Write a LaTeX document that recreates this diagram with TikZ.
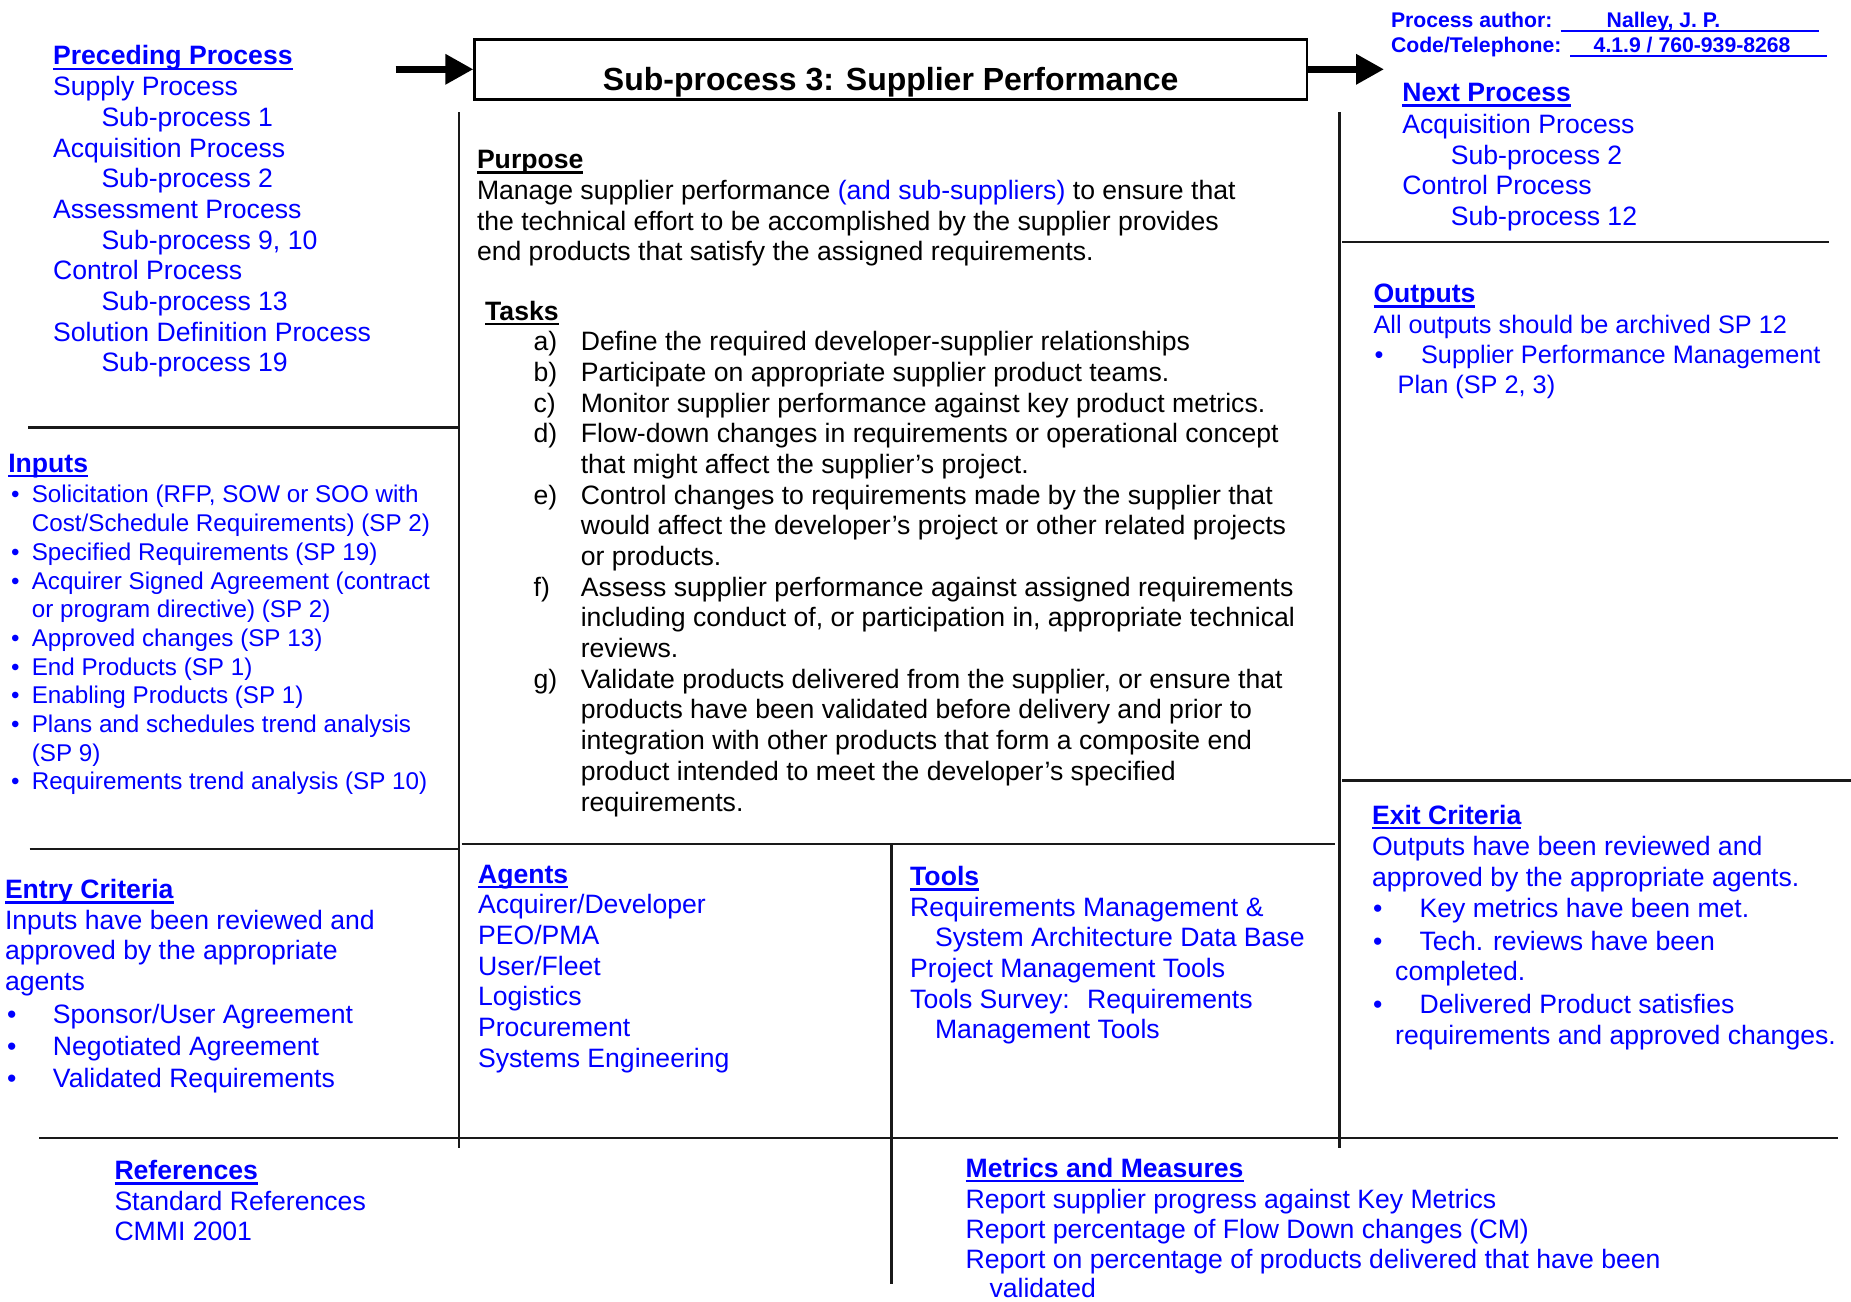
\documentclass[tikz,border=0pt]{standalone}
\usepackage{fontspec}
\setmainfont{Liberation Sans}
\usetikzlibrary{arrows.meta}
\definecolor{wblue}{RGB}{0,0,255}
\newsavebox\hdbox
\newcommand\hdu[1]{\sbox\hdbox{\bfseries #1}\rlap{\rule[-2.6pt]{\wd\hdbox}{1.3pt}}\usebox\hdbox}
\begin{document}
\begin{tikzpicture}[x=0.5pt,y=-0.5pt,
  txt/.style={anchor=base west, inner sep=0pt, outer sep=0pt, font=\fontsize{13.3}{15}\selectfont, text=wblue},
  blk/.style={txt, text=black},
  small/.style={txt, font=\fontsize{12.1}{14}\selectfont},
  outp/.style={txt, font=\fontsize{12.65}{14.5}\selectfont},
  auth/.style={txt, font=\fontsize{10.6}{12}\selectfont\bfseries},
  divline/.style={line width=1.2pt, black!90},
  authline/.style={line width=1.1pt, wblue},
  bigarrow/.style={line width=3.3pt, -{Triangle[length=14pt,width=14.5pt]}},
  titlebox/.style={draw, line width=1.3pt, minimum width=416.1pt, minimum height=30pt, inner sep=0pt}
]
\useasboundingbox (0,0) rectangle (1851,1301);
\fill[white] (0,0) rectangle (1851,1301);

% ---------- title and arrows
\node[titlebox] (title) at (890.7,69.3) {};
\node[blk, anchor=base, font=\fontsize{16}{18}\selectfont\bfseries] (titletxt) at (890.7,90.5) {Sub-process 3: Supplier Performance};
\coordinate (arrL) at (395.5,69.3);
\coordinate (arrR) at (1384,69.3);
\draw[bigarrow] (arrL) -- (title.west);
\draw[bigarrow] (title.east) -- (arrR);

% ---------- author
\node[auth] (pa) at (1391,27.6) {Process author:};
\node[auth] (pan) at (1606.7,27.6) {Nalley, J. P.};
\draw[authline] (1560.6,30.8) -- (1819.1,30.8);
\node[auth] (ct) at (1391,52.4) {Code/Telephone:};
\node[auth] (ctn) at (1593.7,52.4) {4.1.9 / 760-939-8268};
\draw[authline] (1570,55.6) -- (1827.4,55.6);

% ---------- divider lines
\draw[divline] (459.2,112) -- (459.2,1147.5);
\draw[divline] (1339.5,112) -- (1339.5,1147.5);
\draw[divline] (891.3,845) -- (891.3,1284);
\draw[divline] (28.3,427.3) -- (459.2,427.3);
\draw[divline] (29.5,848.8) -- (459.2,848.8);
\draw[divline] (461.6,844) -- (1335,844);
\draw[divline] (1342,242) -- (1828.6,242);
\draw[divline] (1342,780.3) -- (1851,780.3);
\draw[divline] (39,1138) -- (1838,1138);

% ---------- preceding process
\node[txt] (pp) at (53.1,64.9) {\hdu{Preceding Process}};
\node[txt] (pp1) at (53.1,95.6) {Supply Process};
\node[txt] (pp2) at (101.5,126.3) {Sub-process 1};
\node[txt] (pp3) at (53.1,157.0) {Acquisition Process};
\node[txt] (pp4) at (101.5,187.7) {Sub-process 2};
\node[txt] (pp5) at (53.1,218.4) {Assessment Process};
\node[txt] (pp6) at (101.5,249.1) {Sub-process 9, 10};
\node[txt] (pp7) at (53.1,279.8) {Control Process};
\node[txt] (pp8) at (101.5,310.5) {Sub-process 13};
\node[txt] (pp9) at (53.1,341.2) {Solution Definition Process};
\node[txt] (pp10) at (101.5,371.9) {Sub-process 19};

% ---------- inputs
\node[txt] (inh) at (8.3,472.2) {\hdu{Inputs}};
\node[small] (in0) at (11,502.9) {\makebox[10.4pt][l]{•}Solicitation (RFP, SOW or SOO with};
\node[small] (in1) at (31.9,531.6) {Cost/Schedule Requirements) (SP 2)};
\node[small] (in2) at (11,560.3) {\makebox[10.4pt][l]{•}Specified Requirements (SP 19)};
\node[small] (in3) at (11,589.0) {\makebox[10.4pt][l]{•}Acquirer Signed Agreement (contract};
\node[small] (in4) at (31.9,617.7) {or program directive) (SP 2)};
\node[small] (in5) at (11,646.4) {\makebox[10.4pt][l]{•}Approved changes (SP 13)};
\node[small] (in6) at (11,675.0) {\makebox[10.4pt][l]{•}End Products (SP 1)};
\node[small] (in7) at (11,703.7) {\makebox[10.4pt][l]{•}Enabling Products (SP 1)};
\node[small] (in8) at (11,732.4) {\makebox[10.4pt][l]{•}Plans and schedules trend analysis};
\node[small] (in9) at (31.9,761.1) {(SP 9)};
\node[small] (in10) at (11,789.8) {\makebox[10.4pt][l]{•}Requirements trend analysis (SP 10)};

% ---------- entry criteria
\node[txt] (ech) at (5,898.4) {\hdu{Entry Criteria}};
\node[txt] (ec1) at (5,929) {Inputs have been reviewed and};
\node[txt] (ec2) at (5,959.5) {approved by the appropriate};
\node[txt] (ec3) at (5,990) {agents};
\node[txt] (ec4) at (7,1023.5) {\makebox[23pt][l]{•}Sponsor/User Agreement};
\node[txt] (ec5) at (7,1055) {\makebox[23pt][l]{•}Negotiated Agreement};
\node[txt] (ec6) at (7,1087.8) {\makebox[23pt][l]{•}Validated Requirements};

% ---------- purpose
\node[blk] (puh) at (477,168.8) {\hdu{Purpose}};
\node[blk] (pu1) at (477,199.5) {Manage supplier performance \textcolor{wblue}{(and sub-suppliers)} to ensure that};
\node[blk] (pu2) at (477,230.2) {the technical effort to be accomplished by the supplier provides};
\node[blk] (pu3) at (477,260.9) {end products that satisfy the assigned requirements.};

% ---------- tasks
\node[blk] (tkh) at (485.2,320) {\hdu{Tasks}};
\node[blk] (la) at (533.6,350.6) {a)};
\node[blk] (t0) at (580.8,350.6) {Define the required developer-supplier relationships};
\node[blk] (lb) at (533.6,381.3) {b)};
\node[blk] (t1) at (580.8,381.3) {Participate on appropriate supplier product teams.};
\node[blk] (lc) at (533.6,412.0) {c)};
\node[blk] (t2) at (580.8,412.0) {Monitor supplier performance against key product metrics.};
\node[blk] (ld) at (533.6,442.7) {d)};
\node[blk] (t3) at (580.8,442.7) {Flow-down changes in requirements or operational concept};
\node[blk] (t4) at (580.8,473.4) {that might affect the supplier’s project.};
\node[blk] (le) at (533.6,504.1) {e)};
\node[blk] (t5) at (580.8,504.1) {Control changes to requirements made by the supplier that};
\node[blk] (t6) at (580.8,534.7) {would affect the developer’s project or other related projects};
\node[blk] (t7) at (580.8,565.4) {or products.};
\node[blk] (lf) at (533.6,596.1) {f)};
\node[blk] (t8) at (580.8,596.1) {Assess supplier performance against assigned requirements};
\node[blk] (t9) at (580.8,626.8) {including conduct of, or participation in, appropriate technical};
\node[blk] (t10) at (580.8,657.5) {reviews.};
\node[blk] (lg) at (533.6,688.2) {g)};
\node[blk] (t11) at (580.8,688.2) {Validate products delivered from the supplier, or ensure that};
\node[blk] (t12) at (580.8,718.9) {products have been validated before delivery and prior to};
\node[blk] (t13) at (580.8,749.6) {integration with other products that form a composite end};
\node[blk] (t14) at (580.8,780.3) {product intended to meet the developer’s specified};
\node[blk] (t15) at (580.8,811.0) {requirements.};

% ---------- agents
\node[txt] (agh) at (478.1,883) {\hdu{Agents}};
\node[txt] (ag1) at (478.1,913.7) {Acquirer/Developer};
\node[txt] (ag2) at (478.1,944.4) {PEO/PMA};
\node[txt] (ag3) at (478.1,975.1) {User/Fleet};
\node[txt] (ag4) at (478.1,1005.8) {Logistics};
\node[txt] (ag5) at (478.1,1036.5) {Procurement};
\node[txt] (ag6) at (478.1,1067.2) {Systems Engineering};

% ---------- tools
\node[txt] (toh) at (910.2,885.4) {\hdu{Tools}};
\node[txt] (to1) at (910.2,916.1) {Requirements Management \&};
\node[txt] (to2) at (935,946.8) {System Architecture Data Base};
\node[txt] (to3) at (910.2,977.5) {Project Management Tools};
\node[txt] (to4) at (910.2,1008.2) {Tools Survey:~ Requirements};
\node[txt] (to5) at (935,1038.9) {Management Tools};

% ---------- next process
\node[txt] (nph) at (1402.4,101.5) {\hdu{Next Process}};
\node[txt] (np1) at (1402.4,133.4) {Acquisition Process};
\node[txt] (np2) at (1450.8,164.1) {Sub-process 2};
\node[txt] (np3) at (1402.4,194.8) {Control Process};
\node[txt] (np4) at (1450.8,225.5) {Sub-process 12};

% ---------- outputs
\node[txt] (ouh) at (1373.5,302.5) {\hdu{Outputs}};
\node[outp] (ou1) at (1373.5,333.2) {All outputs should be archived SP 12};
\node[outp] (ou2) at (1374.5,363.2) {\makebox[23.3pt][l]{•}Supplier Performance Management};
\node[outp] (ou3) at (1397.7,393.5) {Plan (SP 2, 3)};

% ---------- exit criteria
\node[txt] (exh) at (1372,824) {\hdu{Exit Criteria}};
\node[txt] (ex1) at (1372,855) {Outputs have been reviewed and};
\node[txt] (ex2) at (1372,886.3) {approved by the appropriate agents.};
\node[txt] (ex3) at (1373,917.5) {\makebox[23.3pt][l]{•}Key metrics have been met.};
\node[txt] (ex4) at (1373,950.2) {\makebox[23.3pt][l]{•}Tech. reviews have been};
\node[txt] (ex5) at (1395.2,980.5) {completed.};
\node[txt] (ex6) at (1373,1013.6) {\makebox[23.3pt][l]{•}Delivered Product satisfies};
\node[txt] (ex7) at (1395.2,1044) {requirements and approved changes.};

% ---------- references
\node[txt] (rfh) at (114.5,1179.3) {\hdu{References}};
\node[txt] (rf1) at (114.5,1210) {Standard References};
\node[txt] (rf2) at (114.5,1240.7) {CMMI 2001};

% ---------- metrics
\node[txt] (meh) at (965.6,1177) {\hdu{Metrics and Measures}};
\node[txt] (me1) at (965.6,1208) {Report supplier progress against Key Metrics};
\node[txt] (me2) at (965.6,1238) {Report percentage of Flow Down changes (CM)};
\node[txt] (me3) at (965.6,1268.5) {Report on percentage of products delivered that have been};
\node[txt] (me4) at (989.5,1297.5) {validated};
\end{tikzpicture}
\end{document}
